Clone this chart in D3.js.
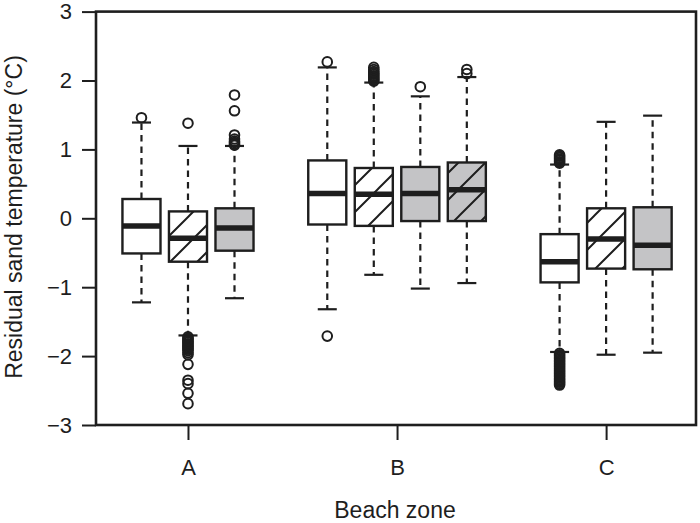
<!DOCTYPE html>
<html><head><meta charset="utf-8">
<script src="https://cdn.jsdelivr.net/npm/d3@7"></script>
<style>body{margin:0;background:#fff}svg{display:block}</style>
</head><body><svg id="c" width="700" height="523"></svg>
<script>
// ---- data ----
const groups = ["A", "B", "C"];
const seriesNames = ["open", "hatched", "grey", "hatched grey"];
const yTicks = [-3, -2, -1, 0, 1, 2, 3];
const boxGroup  = ["A", "A", "A", "B", "B", "B", "B", "C", "C", "C"];
const boxSeries = [0, 1, 2, 0, 1, 2, 3, 0, 1, 2];
const whiskerLow  = [-1.22, -1.70, -1.16, -1.32, -0.82, -1.02, -0.94, -1.94, -1.98, -1.95];
const quartile1   = [-0.51, -0.63, -0.47, -0.09, -0.11, -0.04, -0.04, -0.93, -0.73, -0.74];
const medians     = [-0.11, -0.29, -0.14, 0.36, 0.35, 0.36, 0.415, -0.63, -0.30, -0.39];
const quartile3   = [0.28, 0.10, 0.145, 0.84, 0.73, 0.745, 0.81, -0.23, 0.145, 0.16];
const whiskerHigh = [1.39, 1.05, 1.05, 2.19, 1.97, 1.77, 2.05, 0.78, 1.40, 1.49];
const outliers = [
  [1.46],
  [1.38, -1.72, -1.74, -1.76, -1.78, -1.80, -1.82, -1.84, -1.86, -1.88, -1.90, -1.92, -1.95, -1.98, -2.12, -2.35, -2.40, -2.54, -2.69],
  [1.06, 1.08, 1.10, 1.12, 1.15, 1.21, 1.56, 1.79],
  [2.27, -1.71],
  [1.99, 2.01, 2.03, 2.05, 2.07, 2.09, 2.11, 2.13, 2.16, 2.19],
  [1.91],
  [2.10, 2.16],
  [0.80, 0.82, 0.84, 0.86, 0.88, 0.90, 0.92, -1.96, -1.98, -2.00, -2.02, -2.04, -2.06, -2.08, -2.10, -2.12, -2.14, -2.16, -2.18, -2.20, -2.22, -2.24, -2.26, -2.28, -2.30, -2.32, -2.34, -2.36, -2.38, -2.40, -2.42],
  [],
  []
];

// ---- styles ----
const fillFor = s => (s >= 2 ? "#c4c4c6" : "#ffffff");
const hatchFor = s => (s === 1 || s === 3);
const FONT = "'Liberation Sans', Arial, Helvetica, sans-serif";
const ink = "#1e1e1e";

const svg = d3.select("#c");
const L = 96, R = 696, T = 11.6, B = 425;
const x = d3.scaleLinear().domain([0.56, 3.43]).range([L, R]);
const y = d3.scaleLinear().domain([-3, 3]).range([B, T]);
const gIndex = d3.scaleOrdinal().domain(groups).range([1, 2, 3]);
const boxW = 0.182, step = 0.2225;

// hatch pattern
const defs = svg.append("defs");
const pat = defs.append("pattern").attr("id", "hatch").attr("patternUnits", "userSpaceOnUse")
  .attr("width", 27).attr("height", 27);
pat.append("path").attr("d", "M0,27 L27,0 M-2,2 L2,-2 M25,29 L29,25")
  .attr("stroke", ink).attr("stroke-width", 2);

// box positions
const boxes = boxGroup.map((g, i) => {
  const members = boxGroup.map((gg, j) => gg === g ? j : -1).filter(j => j >= 0);
  const k = members.indexOf(i);
  const cx = gIndex(g) + (k - (members.length - 1) / 2) * step;
  return {i, g, s: boxSeries[i], cx, lo: whiskerLow[i], q1: quartile1[i], med: medians[i], q3: quartile3[i], hi: whiskerHigh[i], out: outliers[i]};
});

const plot = svg.append("g");
boxes.forEach(b => {
  const g = plot.append("g");
  const xc = x(b.cx), x0 = x(b.cx - boxW / 2), x1 = x(b.cx + boxW / 2);
  const capHalf = (x1 - x0) / 4;
  // whiskers
  g.append("line").attr("x1", xc).attr("x2", xc).attr("y1", y(b.q3)).attr("y2", y(b.hi))
    .attr("stroke", ink).attr("stroke-width", 2.2).attr("stroke-dasharray", "6.5,5");
  g.append("line").attr("x1", xc).attr("x2", xc).attr("y1", y(b.q1)).attr("y2", y(b.lo))
    .attr("stroke", ink).attr("stroke-width", 2.2).attr("stroke-dasharray", "6.5,5");
  [b.hi, b.lo].forEach(v => g.append("line").attr("x1", xc - capHalf).attr("x2", xc + capHalf)
    .attr("y1", y(v)).attr("y2", y(v)).attr("stroke", ink).attr("stroke-width", 2.2));
  // box
  g.append("rect").attr("x", x0).attr("y", y(b.q3)).attr("width", x1 - x0).attr("height", y(b.q1) - y(b.q3))
    .attr("fill", fillFor(b.s));
  if (hatchFor(b.s)) {
    g.append("rect").attr("x", x0).attr("y", y(b.q3)).attr("width", x1 - x0).attr("height", y(b.q1) - y(b.q3))
      .attr("fill", "url(#hatch)");
  }
  g.append("line").attr("x1", x0).attr("x2", x1).attr("y1", y(b.med)).attr("y2", y(b.med))
    .attr("stroke", ink).attr("stroke-width", 5.5);
  g.append("rect").attr("x", x0).attr("y", y(b.q3)).attr("width", x1 - x0).attr("height", y(b.q1) - y(b.q3))
    .attr("fill", "none").attr("stroke", ink).attr("stroke-width", 2.4);
  // outliers
  g.selectAll("circle").data(b.out).join("circle")
    .attr("cx", xc).attr("cy", d => y(d)).attr("r", 4.8)
    .attr("fill", "none").attr("stroke", ink).attr("stroke-width", 2);
});

// frame
svg.append("rect").attr("x", L).attr("y", T).attr("width", R - L).attr("height", B - T)
  .attr("fill", "none").attr("stroke", ink).attr("stroke-width", 2.6);

// y axis
const ya = svg.append("g").attr("transform", `translate(${L},0)`)
  .call(d3.axisLeft(y).tickValues(yTicks).tickSize(14).tickPadding(10).tickFormat(d => d < 0 ? "\u2212" + Math.abs(d) : d));
ya.select(".domain").remove();
ya.selectAll("line").attr("stroke", ink).attr("stroke-width", 2);
ya.selectAll("text").attr("font-family", FONT).attr("font-size", 22).attr("fill", ink);

// x axis
const xa = svg.append("g").attr("transform", `translate(0,${B})`)
  .call(d3.axisBottom(x).tickValues(groups.map(gIndex)).tickSize(15).tickPadding(19).tickFormat((d, i) => groups[i]));
xa.select(".domain").remove();
xa.selectAll("line").attr("stroke", ink).attr("stroke-width", 2);
xa.selectAll("text").attr("font-family", FONT).attr("font-size", 22).attr("fill", ink);

// titles
svg.append("text").attr("x", (L + R) / 2 - 1).attr("y", 518).attr("text-anchor", "middle")
  .attr("font-family", FONT).attr("font-size", 23).attr("fill", ink).text("Beach zone");
svg.append("text").attr("transform", "translate(22,217) rotate(-90)").attr("text-anchor", "middle")
  .attr("font-family", FONT).attr("font-size", 23).attr("fill", ink).text("Residual sand temperature (°C)");
</script></body></html>
